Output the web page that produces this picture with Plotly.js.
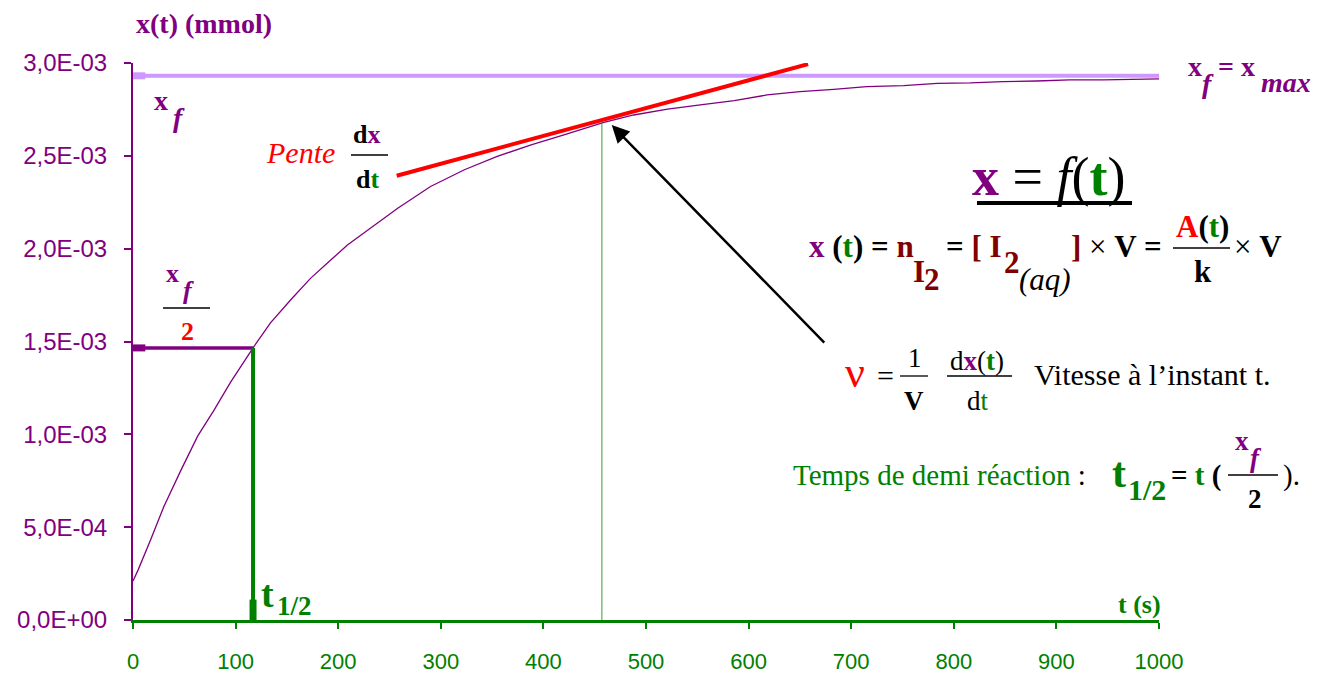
<!DOCTYPE html>
<html>
<head>
<meta charset="utf-8">
<script src="https://cdn.plot.ly/plotly-3.0.1.min.js"></script>
<style>html,body{margin:0;padding:0;background:#fff;}#chart{width:1341px;height:675px;}</style>
</head>
<body>
<div id="chart"></div>
<script>
// ---- data ----
const tSec = [0, 5, 17, 30, 47, 63, 79, 95, 117, 134, 154, 173, 193, 209, 225, 258, 290, 323, 355, 388, 420, 459, 488, 521, 553, 586, 618, 650, 683, 715, 751, 784, 816, 848, 881, 913, 946, 978, 1000];
const xMmol = [0.00021, 0.00027, 0.00043, 0.00061, 0.00081, 0.00099, 0.00113, 0.00128, 0.001466, 0.00160, 0.001726, 0.00184, 0.00194, 0.00202, 0.002084, 0.002218, 0.002335, 0.002425, 0.002497, 0.002559, 0.002613, 0.00268, 0.00272, 0.002751, 0.002774, 0.002797, 0.002828, 0.002846, 0.002858, 0.002873, 0.002878, 0.00289, 0.002893, 0.0029, 0.002903, 0.002909, 0.002909, 0.002912, 0.002914];
const xTicks = [0, 100, 200, 300, 400, 500, 600, 700, 800, 900, 1000];
const xTickText = ['0', '100', '200', '300', '400', '500', '600', '700', '800', '900', '1000'];
const yTicks = [0, 0.0005, 0.001, 0.0015, 0.002, 0.0025, 0.003];
const yTickText = ['0,0E+00', '5,0E-04', '1,0E-03', '1,5E-03', '2,0E-03', '2,5E-03', '3,0E-03'];
const xFinal = 0.002931;          // x_f
const tHalf = 117;                // t 1/2
const tTangent = 457;             // instant of the tangent
const xTangent = 0.002693;
const tangentT = [257, 658];
const tangentX = [0.002393, 0.002994];

// ---- colours ----
const PURPLE = '#800080', GREEN = '#008000', DARKRED = '#800000', RED = '#FF0000', LILAC = '#CC99FF';
const SERIF = '"Liberation Serif", "Times New Roman", serif';
const SANS = '"Liberation Sans", Arial, sans-serif';

// ---- pixel helpers for the free text ----
const L = 133, T = 63, W = 1026, H = 557;
const px = x => (x - L) / W;
const py = y => (T + H - y) / H;
function txt(x, base, html, size, color, anchor) {
  return {xref: 'paper', yref: 'paper', x: px(x), y: py(base - 0.34 * size),
    xanchor: anchor || 'left', yanchor: 'middle', text: html, showarrow: false,
    borderpad: 0, font: {family: SERIF, size: size, color: color || '#000'}};
}
function hline(x0, x1, y, w, c) {
  return {type: 'line', xref: 'paper', yref: 'paper', x0: px(x0), x1: px(x1), y0: py(y), y1: py(y),
    line: {color: c || '#000', width: w || 1.3}};
}
const sp = (c, s) => '<span style="color:' + c + '">' + s + '</span>';

const traces = [{
  x: tSec, y: xMmol, type: 'scatter', mode: 'lines',
  line: {color: PURPLE, width: 1.3}, hoverinfo: 'skip', showlegend: false
}];

const shapes = [
  // x_f line
  {type: 'line', xref: 'x', yref: 'y', x0: 0, x1: 1000, y0: xFinal, y1: xFinal, line: {color: LILAC, width: 4}},
  {type: 'line', xref: 'x', yref: 'y', x0: 0, x1: 12, y0: xFinal, y1: xFinal, line: {color: LILAC, width: 7}},
  // x_f / 2 line
  {type: 'line', xref: 'x', yref: 'y', x0: 0, x1: tHalf, y0: xFinal / 2, y1: xFinal / 2, line: {color: PURPLE, width: 3.5}},
  {type: 'line', xref: 'x', yref: 'y', x0: 0, x1: 12, y0: xFinal / 2, y1: xFinal / 2, line: {color: PURPLE, width: 7}},
  // t 1/2 vertical
  {type: 'line', xref: 'x', yref: 'y', x0: tHalf, x1: tHalf, y0: 0, y1: xFinal / 2, line: {color: GREEN, width: 4}},
  {type: 'line', xref: 'x', yref: 'y', x0: tHalf, x1: tHalf, y0: 0, y1: 0.00011, line: {color: GREEN, width: 7}},
  // tangent instant
  {type: 'line', xref: 'x', yref: 'y', x0: tTangent, x1: tTangent, y0: 0, y1: xTangent, line: {color: '#33a033', width: 1}},
  // tangent
  {type: 'line', xref: 'x', yref: 'y', x0: tangentT[0], x1: tangentT[1], y0: tangentX[0], y1: tangentX[1], line: {color: RED, width: 4}},
  // fraction bars
  hline(351, 388, 155),
  hline(163, 210, 308),
  hline(1173, 1230, 248),
  hline(900, 928, 376),
  hline(947, 1012, 376),
  hline(1228, 1278, 475),
  // underline of title
  hline(977, 1132, 203, 4)
];

const annotations = [
  txt(135, 33, '<b>x(t) (mmol)</b>', 28, PURPLE),
  txt(1162, 613, '<b>t (s)</b>', 26, GREEN, 'right'),
  // x_f top-left
  txt(153, 110, '<b>x</b>', 28, PURPLE),
  txt(172, 127, '<b><i>f</i></b>', 28, PURPLE),
  // right label x_f = x_max
  txt(1187, 76, '<b>x</b>', 28, PURPLE),
  txt(1201, 93, '<b><i>f</i></b>', 28, PURPLE),
  txt(1217, 76, '<b>= x</b>', 28, PURPLE),
  txt(1260, 92, '<b><i>max</i></b>', 28, PURPLE),
  // Pente dx/dt
  txt(265, 163, '<i>Pente</i>', 30, RED),
  txt(352, 143, '<b>d' + sp(PURPLE, 'x') + '</b>', 26, '#000'),
  txt(355, 188, '<b>d' + sp(GREEN, 't') + '</b>', 26, '#000'),
  // x_f / 2
  txt(165, 282, '<b>x</b>', 26, PURPLE),
  txt(182, 299, '<b><i>f</i></b>', 26, PURPLE),
  txt(180, 340, '<b>2</b>', 26, RED),
  // t 1/2 on axis
  txt(260, 607, '<b>t</b>', 38, GREEN),
  txt(276, 615, '<b>1/2</b>', 27, GREEN),
  // x = f(t)
  txt(971, 195, '<b>' + sp(PURPLE, 'x') + '</b> = <i>f</i>(<b>' + sp(GREEN, 't') + '</b>)', 54, '#000'),
  // equation line
  txt(808, 257, '<b>' + sp(PURPLE, 'x') + ' (' + sp(GREEN, 't') + ') = ' + sp(DARKRED, 'n') + '</b>', 31, '#000'),
  txt(912, 282, '<b>I</b>', 31, DARKRED),
  txt(923, 290, '<b>2</b>', 31, DARKRED),
  txt(945, 257, '<b>= ' + sp(DARKRED, '[ I') + '</b>', 31, '#000'),
  txt(1003, 273, '<b>2</b>', 31, DARKRED),
  txt(1018, 290, '<i>(aq)</i>', 31, '#000'),
  txt(1070, 257, '<b>' + sp(DARKRED, ']') + '</b> × <b>V =</b>', 31, '#000'),
  txt(1175, 237, '<b>' + sp(RED, 'A') + '(' + sp(GREEN, 't') + ')</b>', 31, '#000'),
  txt(1193, 282, '<b>k</b>', 31, '#000'),
  txt(1233, 257, '× <b>V</b>', 31, '#000'),
  // vitesse
  txt(844, 387, 'ν', 44, RED),
  txt(876, 386, '=', 30, '#000'),
  txt(907, 367, '1', 27, '#000'),
  txt(903, 410, '<b>V</b>', 27, '#000'),
  txt(949, 370, 'd<b>' + sp(PURPLE, 'x') + '</b>(<b>' + sp(GREEN, 't') + '</b>)', 27, '#000'),
  txt(966, 410, 'd' + sp(GREEN, 't'), 27, '#000'),
  txt(1033, 385, 'Vitesse à l’instant t.', 30, '#000'),
  // temps de demi reaction
  txt(792, 485, sp(GREEN, 'Temps de demi réaction') + ' :', 29, '#000'),
  txt(1111, 487, '<b>t</b>', 42, GREEN),
  txt(1127, 500, '<b>1/2</b>', 30, GREEN),
  txt(1170, 485, '<b>= ' + sp(GREEN, 't') + ' (</b>', 29, '#000'),
  txt(1234, 450, '<b>x</b>', 27, PURPLE),
  txt(1249, 467, '<b><i>f</i></b>', 27, PURPLE),
  txt(1247, 508, '<b>2</b>', 27, '#000'),
  txt(1282, 485, ').', 29, '#000'),
  // arrow
  {xref: 'x', yref: 'y', x: 466.6, y: 0.002666, ax: 214, ay: 219, axref: 'pixel', ayref: 'pixel',
   text: '', showarrow: true, arrowhead: 2, arrowsize: 1.4, arrowwidth: 2.5, arrowcolor: '#000', standoff: 0}
];

const layout = {
  width: 1341, height: 675,
  margin: {l: L, r: 1341 - L - W, t: T, b: 675 - T - H, pad: 0},
  paper_bgcolor: '#fff', plot_bgcolor: '#fff',
  showlegend: false,
  xaxis: {
    range: [0, 1000], tickmode: 'array', tickvals: xTicks, ticktext: xTickText,
    showline: true, linecolor: GREEN, linewidth: 3, mirror: false,
    ticks: 'outside', ticklen: 6, tickwidth: 2, tickcolor: GREEN,
    tickfont: {family: SANS, size: 22, color: GREEN},
    ticklabelstandoff: 14, showgrid: false, zeroline: false, fixedrange: true
  },
  yaxis: {
    range: [0, 0.003], tickmode: 'array', tickvals: yTicks, ticktext: yTickText,
    showline: true, linecolor: PURPLE, linewidth: 2,
    ticks: 'outside', ticklen: 7, tickwidth: 2, tickcolor: PURPLE,
    tickfont: {family: SANS, size: 24, color: PURPLE},
    ticklabelstandoff: 12, showgrid: false, zeroline: false, fixedrange: true
  },
  shapes: shapes,
  annotations: annotations
};

Plotly.newPlot('chart', traces, layout, {staticPlot: true, displayModeBar: false});
</script>
</body>
</html>
